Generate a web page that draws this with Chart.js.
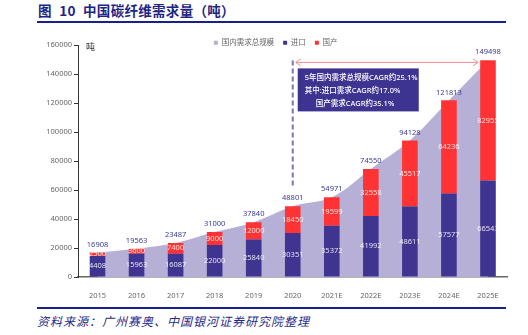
<!DOCTYPE html>
<html>
<head>
<meta charset="utf-8">
<script src="https://cdn.jsdelivr.net/npm/chart.js@4.4.1/dist/chart.umd.min.js"></script>
<style>
  body { margin: 0; width: 528px; height: 335px; background: #fff; position: relative; overflow: hidden; }
  #titulo { position: absolute; left: 38px; top: 0px; font: bold 13.5px "Noto Sans CJK SC", sans-serif; color: #1c2585; line-height: 20px; word-spacing: 4px; letter-spacing: 0.3px; }
  .regua { position: absolute; left: 37px; width: 469px; height: 2px; background: #1a1f8f; }
  #fonte { position: absolute; left: 37px; top: 313px; font: italic 12px "Noto Sans CJK SC", sans-serif; letter-spacing: 1px; color: #1f2a8a; line-height: 16px; }
  #caixa { position: absolute; left: 0; top: 30px; width: 528px; height: 270px; }
</style>
</head>
<body>
<div id="titulo">图 10 中国碳纤维需求量（吨）</div>
<div class="regua" style="top:21px"></div>
<div id="caixa"><canvas id="grafico"></canvas></div>
<div class="regua" style="top:307px"></div>
<div id="fonte">资料来源：广州赛奥、中国银河证券研究院整理</div>

<script>
// === DADOS ===
const anos = ['2015', '2016', '2017', '2018', '2019', '2020', '2021E', '2022E', '2023E', '2024E', '2025E'];
const demandaTotal = [16908, 19563, 23487, 31000, 37840, 48801, 54971, 74550, 94128, 121813, 149498];
const importacao   = [14408, 15963, 16087, 22000, 25840, 30351, 35372, 41992, 48611, 57577, 66543];
const nacional     = [2500, 3600, 7400, 9000, 12000, 18450, 19599, 32558, 45517, 64236, 82955];
// rótulos do segmento de importação como aparecem na figura (2015 aparece "4408")
const rotulosImportacao = ['4408', '15963', '16087', '22000', '25840', '30351', '35372', '41992', '48611', '57577', '66543'];
const ticksY = [0, 20000, 40000, 60000, 80000, 100000, 120000, 140000, 160000];
const textosCagr = ['5年国内需求总规模CAGR约25.1%', '其中:进口需求CAGR约17.0%', '国产需求CAGR约35.1%'];

// === CORES ===
const corLilas = '#b6b0d6';
const corAzul  = '#403491';
const corVermelho = '#ff3333';

Chart.defaults.font.family = '"Noto Sans", "Noto Sans CJK SC", sans-serif';

// legenda ocupa pouco espaço: fica por cima do topo da área do gráfico
const pluginLegenda = {
  id: 'legendaCompacta',
  beforeLayout(chart) {
    const leg = chart.legend;
    if (leg && !leg._compacta) {
      const fitOriginal = leg.fit;
      leg.fit = function () { fitOriginal.call(this); this.height = 15; };
      leg._compacta = true;
    }
  },
  afterLayout(chart) {
    const leg = chart.legend;
    leg.left += 22;
    leg.right += 22;
    // devolve altura para o clip não cortar o texto
    leg.height = 30;
    leg.bottom = leg.top + 30;
  }
};

// números dentro e acima das barras
const pluginRotulos = {
  id: 'rotulos',
  afterDatasetsDraw(chart) {
    const ctx = chart.ctx;
    const metaImp = chart.getDatasetMeta(1);
    const metaNac = chart.getDatasetMeta(2);
    ctx.save();
    ctx.font = '7.5px "Noto Sans"';
    ctx.textAlign = 'center';
    ctx.textBaseline = 'middle';
    metaImp.data.forEach((barra, i) => {
      const a = barra.getProps(['x', 'y', 'base'], true);
      const b = metaNac.data[i].getProps(['x', 'y', 'base'], true);
      ctx.fillStyle = 'rgba(255,255,255,0.85)';
      ctx.fillText(rotulosImportacao[i], a.x, (a.y + a.base) / 2);
      ctx.fillText(String(nacional[i]), b.x, (b.y + b.base) / 2);
      ctx.fillStyle = '#3b3a98';
      ctx.fillText(String(demandaTotal[i]), b.x, b.y - 8);
    });
    ctx.restore();
  }
};

// unidade, linha tracejada, seta e caixa do CAGR
const pluginAnotacao = {
  id: 'anotacao',
  afterDraw(chart) {
    const ctx = chart.ctx;
    const xs = chart.scales.x, ys = chart.scales.y;
    const area = chart.chartArea;
    const x2020 = xs.getPixelForValue(5);
    const x2025 = xs.getPixelForValue(10);
    const yTopo = ys.getPixelForValue(148000);
    ctx.save();

    ctx.fillStyle = '#333';
    ctx.font = '9px "Noto Sans CJK SC"';
    ctx.textAlign = 'left';
    ctx.textBaseline = 'middle';
    ctx.fillText('吨', area.left + 8, area.top + 2);

    // tracejada em 2020
    ctx.strokeStyle = '#7d72b8';
    ctx.lineWidth = 2;
    ctx.setLineDash([5, 3]);
    ctx.beginPath();
    ctx.moveTo(x2020, yTopo - 2);
    ctx.lineTo(x2020, ys.getPixelForValue(demandaTotal[5]) - 18);
    ctx.stroke();
    ctx.setLineDash([]);

    // seta dupla
    const xa = x2020 + 3, xb = x2025 - 10;
    ctx.strokeStyle = '#f28b8b';
    ctx.lineWidth = 1;
    ctx.beginPath();
    ctx.moveTo(xa, yTopo); ctx.lineTo(xb, yTopo);
    ctx.moveTo(xa + 5, yTopo - 3.5); ctx.lineTo(xa, yTopo); ctx.lineTo(xa + 5, yTopo + 3.5);
    ctx.moveTo(xb - 5, yTopo - 3.5); ctx.lineTo(xb, yTopo); ctx.lineTo(xb - 5, yTopo + 3.5);
    ctx.stroke();

    // caixa
    const bx = x2020 + 5, by = yTopo + 6;
    ctx.fillStyle = '#3d3390';
    ctx.fillRect(bx, by, 121, 43);
    ctx.fillStyle = '#fff';
    ctx.font = '500 7.5px "Noto Sans", "Noto Sans CJK SC"';
    ctx.fillText(textosCagr[0], bx + 7, by + 9);
    ctx.fillText(textosCagr[1], bx + 7, by + 22);
    ctx.fillText(textosCagr[2], bx + 18, by + 35);
    ctx.restore();
  }
};

new Chart(document.getElementById('grafico'), {
  data: {
    labels: anos,
    datasets: [
      {
        type: 'line',
        label: '国内需求总规模',
        data: demandaTotal,
        stack: 'total',
        fill: 'origin',
        backgroundColor: corLilas,
        borderColor: corLilas,
        borderWidth: 0,
        pointRadius: 0,
        tension: 0.35
      },
      {
        type: 'bar',
        label: '进口',
        data: importacao,
        stack: 'barra',
        backgroundColor: corAzul,
        barPercentage: 0.5,
        categoryPercentage: 0.8
      },
      {
        type: 'bar',
        label: '国产',
        data: nacional,
        stack: 'barra',
        backgroundColor: corVermelho,
        barPercentage: 0.5,
        categoryPercentage: 0.8
      }
    ]
  },
  options: {
    responsive: true,
    maintainAspectRatio: false,
    animation: false,
    layout: { padding: { left: 0, right: 20.5, top: 0, bottom: 0 } },
    scales: {
      x: {
        stacked: true,
        grid: { display: false },
        border: { color: '#666', width: 1.5 },
        ticks: { color: '#666', font: { size: 7.5 }, padding: 6 },
        afterFit: s => { s.height = 23; }
      },
      y: {
        stacked: true,
        min: 0,
        max: 160000,
        afterBuildTicks: s => { s.ticks = ticksY.map(v => ({ value: v })); },
        grid: { drawOnChartArea: false, tickLength: 4, color: '#333' },
        border: { color: '#333', width: 1 },
        ticks: { color: '#666', font: { size: 7.5 }, padding: 2, callback: v => String(v) },
        afterFit: s => { s.width = 78; }
      }
    },
    plugins: {
      filler: { drawTime: 'beforeDatasetsDraw' },
      tooltip: { enabled: false },
      legend: {
        position: 'top',
        labels: { boxWidth: 4, boxHeight: 4, padding: 9, color: '#666', font: { size: 7.5 } }
      }
    }
  },
  plugins: [pluginLegenda, pluginRotulos, pluginAnotacao]
});
</script>
</body>
</html>
